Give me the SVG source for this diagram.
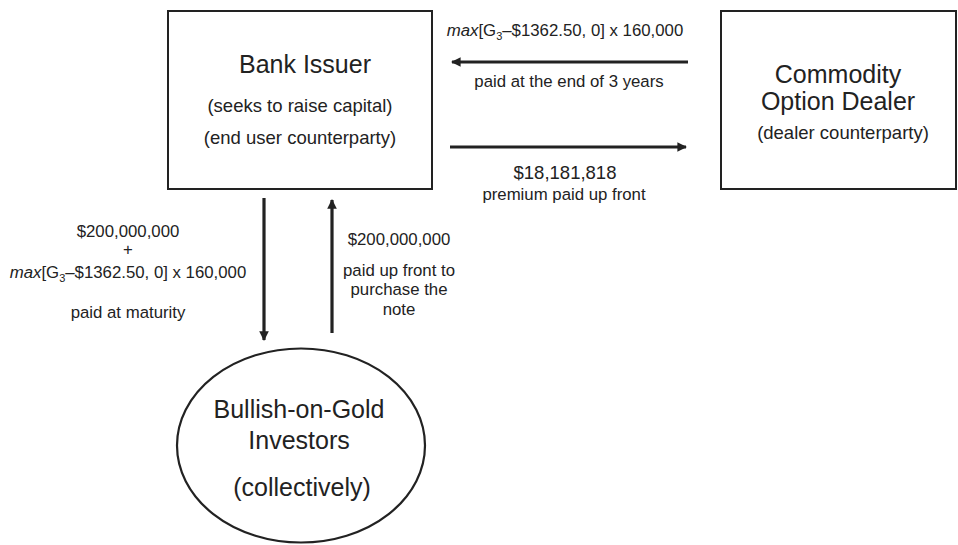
<svg xmlns="http://www.w3.org/2000/svg" width="958" height="545" viewBox="0 0 958 545">
<style>
text{font-family:"Liberation Sans",Arial,Helvetica,sans-serif;fill:#222;text-anchor:middle}
.t{font-size:25px}
.m{font-size:18.5px}
.s{font-size:16.8px}
.box{fill:#fff;stroke:#222;stroke-width:2}
.ar{stroke:#222;stroke-width:3.2;fill:none}
.i{font-style:italic}
</style>
<defs>
<marker id="ah" viewBox="0 0 10 10" refX="9" refY="5" markerWidth="3.2" markerHeight="3" orient="auto" markerUnits="strokeWidth">
<path d="M0,0 L10,5 L0,10 z" fill="#222"/>
</marker>
</defs>
<rect width="958" height="545" fill="#fff"/>
<g id="bank">
<rect class="box" x="168" y="11" width="264" height="178"/>
<text class="t" x="305" y="73">Bank Issuer</text>
<text class="m" x="300" y="112">(seeks to raise capital)</text>
<text class="m" x="300" y="144">(end user counterparty)</text>
</g>
<g id="dealer">
<rect class="box" x="721" y="11" width="235" height="178"/>
<text class="t" x="838" y="83">Commodity</text>
<text class="t" x="838" y="110">Option Dealer</text>
<text class="m" x="843" y="139">(dealer counterparty)</text>
</g>
<g id="investors">
<ellipse cx="301" cy="445.5" rx="124" ry="97" fill="#fff" stroke="#222" stroke-width="2.2"/>
<text class="t" x="299" y="418">Bullish-on-Gold</text>
<text class="t" x="299" y="449">Investors</text>
<text class="t" x="302" y="496">(collectively)</text>
</g>
<g id="connectors">
<line class="ar" x1="688" y1="62" x2="452" y2="62" marker-end="url(#ah)"/>
<line class="ar" x1="450" y1="147" x2="686" y2="147" marker-end="url(#ah)"/>
<line class="ar" x1="264" y1="198" x2="264" y2="340" marker-end="url(#ah)"/>
<line class="ar" x1="332" y1="333" x2="332" y2="200" marker-end="url(#ah)"/>
</g>
<g id="labels">
<text class="s" x="565" y="36"><tspan class="i">max</tspan>[G<tspan font-size="11" dy="4">3</tspan><tspan dy="-4">–$1362.50, 0] x 160,000</tspan></text>
<text class="s" x="569" y="87">paid at the end of 3 years</text>
<text class="m" x="565" y="179">$18,181,818</text>
<text class="s" x="564" y="200">premium paid up front</text>
<text class="s" x="128" y="237">$200,000,000</text>
<text class="s" x="128" y="255">+</text>
<text class="s" x="128" y="278"><tspan class="i">max</tspan>[G<tspan font-size="11" dy="4">3</tspan><tspan dy="-4">–$1362.50, 0] x 160,000</tspan></text>
<text class="s" x="128" y="318">paid at maturity</text>
<text class="s" x="399" y="245">$200,000,000</text>
<text class="s" x="399" y="276">paid up front to</text>
<text class="s" x="399" y="295">purchase the</text>
<text class="s" x="399" y="315">note</text>
</g>
</svg>
